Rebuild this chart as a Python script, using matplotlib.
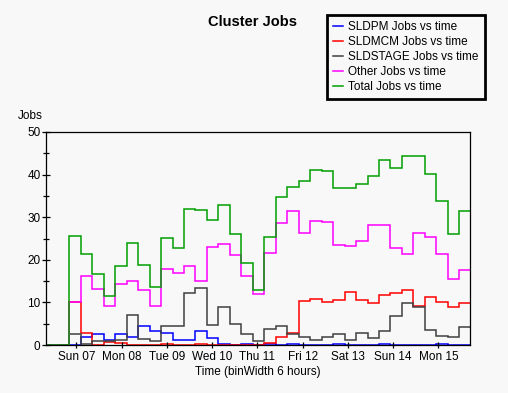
import numpy as np
import matplotlib
matplotlib.use("Agg")
import matplotlib.pyplot as plt

plt.rcParams['font.family'] = ['Liberation Sans', 'DejaVu Sans']

# day labels on the time axis
days = ["Sun 07", "Mon 08", "Tue 09", "Wed 10", "Thu 11",
        "Fri 12", "Sat 13", "Sun 14", "Mon 15"]

# jobs per 6 hour bin (35 bins)
sldpm = [0, 1.9, 2.6, 1.2, 2.6, 1.9, 4.5, 3.3, 2.8, 1.2, 1.2, 3.3, 1.6, 0.2, 0, 0.2, 0, 0.2,
         0, 0.2, 0, 0, 0, 0.2, 0, 0, 0, 0.2, 0, 0, 0, 0, 0.2, 0, 0]
sldmcm = [10.0, 2.8, 0, 0.7, 0.4, 0, 0, 0, 0.3, 0, 0, 0.3, 0, 0, 0, 0, 0, 0.5,
          1.8, 2.9, 10.3, 10.8, 10.1, 10.6, 12.4, 10.6, 9.9, 11.7, 12.2, 12.9, 9.2, 11.3, 10.1, 8.9, 9.9]
sldstage = [2.6, 0.2, 0.9, 0.9, 1.2, 7.0, 1.4, 0.9, 4.5, 4.5, 12.2, 13.4, 4.7, 8.9, 5.0, 2.6, 0.9, 3.8,
            4.5, 2.6, 1.9, 1.2, 1.9, 2.6, 1.2, 2.9, 1.6, 3.3, 6.8, 9.9, 8.9, 3.5, 2.1, 1.9, 4.2]
other = [10.1, 16.3, 13.1, 9.2, 14.3, 15.0, 12.9, 9.2, 17.9, 16.9, 18.5, 15.1, 23.0, 23.7, 21.1, 16.3, 12.0, 21.6,
         28.6, 31.5, 26.3, 29.1, 28.9, 23.5, 23.2, 24.5, 28.1, 28.1, 22.8, 21.4, 26.3, 25.4, 21.4, 15.6, 17.6]
total = [25.6, 21.4, 16.7, 11.6, 18.6, 23.9, 18.8, 13.7, 25.2, 22.8, 31.9, 31.7, 29.4, 32.9, 26.1, 19.2, 12.9, 25.4,
         34.7, 37.1, 38.5, 41.1, 40.8, 36.9, 36.9, 37.9, 39.7, 43.4, 41.5, 44.4, 44.4, 40.2, 33.9, 26.1, 31.5]

bg = '#f8f8f8'
fs = 8.5

fig = plt.figure(figsize=(5.08, 3.93), dpi=100, facecolor=bg)
ax = fig.add_axes([46/508, 48/393, 424/508, 213/393])
ax.set_facecolor(bg)

# two empty bins before the data start
edges = np.arange(-2, len(total) + 1)
series = [(sldpm, '#0000ff', 'SLDPM Jobs vs time'),
          (sldmcm, '#ff0000', 'SLDMCM Jobs vs time'),
          (sldstage, '#404040', 'SLDSTAGE Jobs vs time'),
          (other, '#ff00ff', 'Other Jobs vs time'),
          (total, '#009f00', 'Total Jobs vs time')]
for vals, col, lab in series:
    ax.stairs([0, 0] + vals, edges, baseline=None, color=col, lw=1.1, label=lab)

ax.set_xlim(-2.03, 34.93)
ax.set_ylim(0, 50)
ax.set_yticks(range(0, 51, 10))
ax.set_yticks(range(5, 50, 10), minor=True)
ax.tick_params(axis='y', which='major', direction='inout', length=6, width=0.9, pad=1, labelsize=fs)
ax.tick_params(axis='y', which='minor', direction='inout', length=4, width=0.9)
ax.set_xticks(0.61 + 3.945 * np.arange(len(days)))
ax.set_xticklabels(days)
ax.tick_params(axis='x', direction='inout', length=5, width=0.9, pad=2, labelsize=fs)
for s in ax.spines.values():
    s.set_linewidth(0.9)

ax.set_xlabel('Time (binWidth 6 hours)', fontsize=fs, labelpad=2)
fig.text(18/508, 1 - 116/393, 'Jobs', fontsize=fs, va='center')
fig.text(252/508, 1 - 22/393, 'Cluster Jobs', fontsize=10.5, weight='bold', ha='center', va='center')

leg = fig.legend(loc='upper left', bbox_to_anchor=(327/508, 1 - 15/393), fontsize=fs,
                 handlelength=0.85, handletextpad=0.45, labelspacing=0.25, borderpad=0.5,
                 borderaxespad=0, fancybox=False, edgecolor='black', facecolor=bg, framealpha=1)
leg.get_frame().set_linewidth(2)

fig.savefig('out.png', dpi=100, facecolor=bg)
